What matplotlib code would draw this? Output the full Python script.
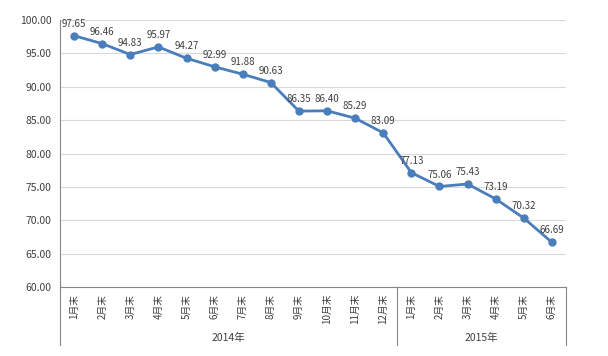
import matplotlib
matplotlib.use("Agg")
import matplotlib.pyplot as plt
from matplotlib.lines import Line2D

plt.rcParams['font.family'] = ['Noto Sans CJK SC', 'DejaVu Sans']

# data
months = ['1月末', '2月末', '3月末', '4月末', '5月末', '6月末', '7月末', '8月末',
          '9月末', '10月末', '11月末', '12月末',
          '1月末', '2月末', '3月末', '4月末', '5月末', '6月末']
values = [97.65, 96.46, 94.83, 95.97, 94.27, 92.99, 91.88, 90.63,
          86.35, 86.40, 85.29, 83.09,
          77.13, 75.06, 75.43, 73.19, 70.32, 66.69]
years = ['2014年', '2015年']
year_counts = [12, 6]

fig = plt.figure(figsize=(6.08, 3.56), dpi=100)
ax = fig.add_axes([0.0987, 0.1938, 0.8322, 0.75])

xs = list(range(len(values)))
ax.plot(xs, values, color='#4a7ebb', linewidth=2, marker='o', markersize=5)

for x, v in zip(xs, values):
    ax.annotate('%.2f' % v, (x, v), xytext=(0, 5), textcoords='offset points',
                ha='center', va='bottom', fontsize=7, color='#404040')

ax.set_xlim(-0.5, len(values) - 0.5)
ax.set_ylim(60, 100)
ax.set_yticks(range(60, 101, 5))
ax.set_yticklabels(['%.2f' % v for v in range(60, 101, 5)], fontsize=7.5, color='#404040')
ax.yaxis.grid(True, color='#d9d9d9', linewidth=0.8)
ax.set_axisbelow(True)
ax.tick_params(axis='y', length=0, pad=6)

ax.set_xticks(xs)
ax.set_xticklabels(months, rotation=90, fontsize=7, color='#404040')
ax.tick_params(axis='x', length=0, pad=5)

for s in ['top', 'right']:
    ax.spines[s].set_visible(False)
ax.spines['left'].set_color('#868686')
ax.spines['bottom'].set_color('#868686')

# group separators and year labels
trans = ax.get_xaxis_transform()
start = -0.5
for name, n in zip(years, year_counts):
    ax.add_line(Line2D([start, start], [0, -0.217], transform=trans,
                       color='#868686', linewidth=0.8, clip_on=False))
    ax.text(start + n / 2, -0.19, name, transform=trans, ha='center', va='center',
            fontsize=7.5, color='#404040')
    start += n
ax.add_line(Line2D([start, start], [0, -0.217], transform=trans,
                   color='#868686', linewidth=0.8, clip_on=False))

fig.savefig('out.png', dpi=100)
